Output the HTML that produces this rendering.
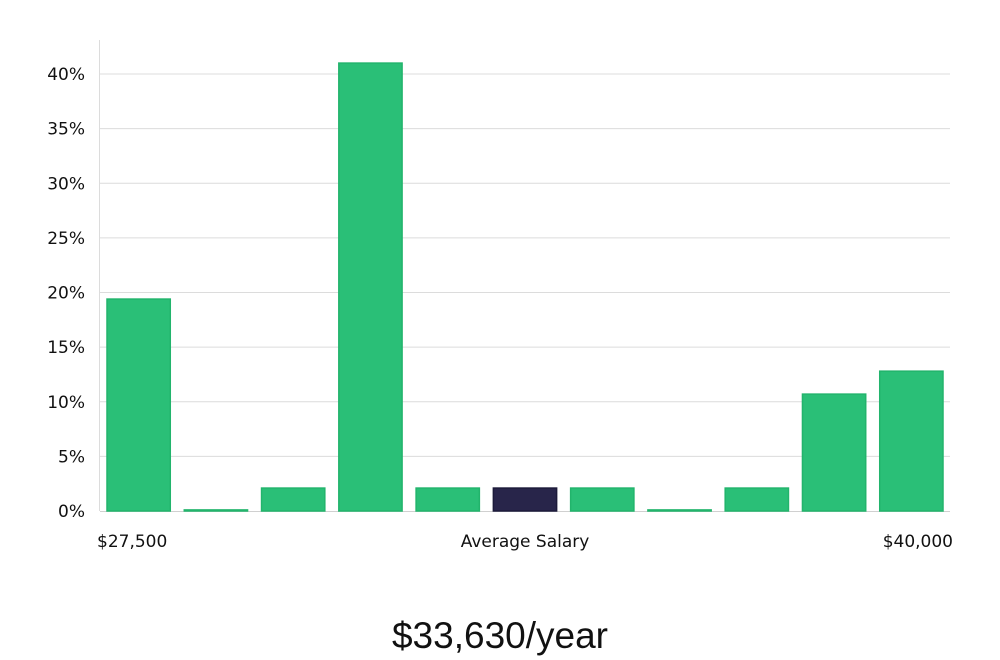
<!DOCTYPE html>
<html><head><meta charset="utf-8"><style>
body{margin:0;background:#fff;width:1000px;height:660px;overflow:hidden;font-family:"DejaVu Sans","Liberation Sans",sans-serif}
svg{display:block}
</style></head><body>
<svg id="chart" width="1000" height="660" xmlns="http://www.w3.org/2000/svg"></svg>
<script>
const categories=["27500","28750","30000","31250","32500","33750","35000","36250","37500","38750","40000"];
const values=[19.4,0.1,2.1,41.0,2.1,2.1,2.1,0.1,2.1,10.7,12.8];
const highlight=[false,false,false,false,false,true,false,false,false,false,false];
const yTicks=[0,5,10,15,20,25,30,35,40];
const xLabels=["$27,500","Average Salary","$40,000"];
const titleText="$33,630/year";
const NS="http://www.w3.org/2000/svg";
const svg=document.getElementById('chart');
const x0=100,x1=950,yZero=511,yTop40=74;
const y=v=>yZero-(v/40)*(yZero-yTop40);
const slot=(x1-x0)/categories.length;
function mk(t,a){const e=document.createElementNS(NS,t);for(const k in a)e.setAttribute(k,a[k]);svg.appendChild(e);return e;}
yTicks.forEach(t=>{
  if(t>0){const g=mk('line',{x1:x0,x2:x1,y1:y(t),y2:y(t),stroke:'#dcdcdc','stroke-width':1});
  
  }
  const l=mk('text',{x:85,y:y(t)+6,'text-anchor':'end','font-size':17,fill:'#111'});
  l.textContent=t+'%';
  
  
});
const ax=mk('line',{x1:99.5,x2:99.5,y1:40,y2:yZero,stroke:'#dcdcdc'});


const bx=mk('line',{x1:x0,x2:x1,y1:yZero+0.5,y2:yZero+0.5,stroke:'#d0d0d0'});


values.forEach((v,i)=>{
  const bxp=x0+i*slot+7,w=slot-14;
  const top=y(v);
  const r=mk('rect',{x:bxp,y:top,width:w,height:Math.max(1,yZero-top),fill:highlight[i]?'#28254a':'#2abf77',stroke:highlight[i]?'#1c1a3a':'#22b46c','stroke-width':1.5});
  
  
});
const pos=[[97,'start'],[525,'middle'],[953,'end']];
xLabels.forEach((s,i)=>{
  const t=mk('text',{x:pos[i][0],y:547,'text-anchor':pos[i][1],'font-size':17,fill:'#111'});
  t.textContent=s;
  
  
});
const ti=mk('text',{x:500,y:648,'text-anchor':'middle','font-size':37,fill:'#111','font-family':'Liberation Sans, sans-serif'});
ti.textContent=titleText;


</script>
</body></html>
